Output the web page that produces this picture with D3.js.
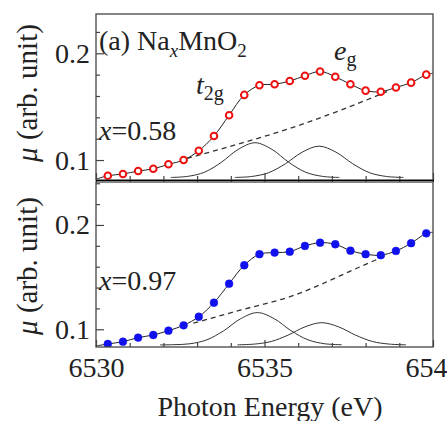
<!DOCTYPE html>
<html>
<head>
  <meta charset="utf-8">
  <script src="https://d3js.org/d3.v7.min.js"></script>
  <title>NaxMnO2 pre-edge</title>
  <style>
    body { margin: 0; background: #fff; }
    text { font-family: "Liberation Serif", "Times New Roman", serif; fill: #222; }
  </style>
</head>
<body>
  <div class='chart'></div>
  <script type="text/javascript">
    // photon energy of the measured points (eV)
    var energy = [6530.35, 6530.8, 6531.25, 6531.7, 6532.15, 6532.6, 6533.05, 6533.5,
                  6533.95, 6534.4, 6534.85, 6535.3, 6535.75, 6536.2, 6536.65, 6537.1,
                  6537.55, 6538.0, 6538.45, 6538.9, 6539.35, 6539.8];

    // x = 0.58 (top), x = 0.97 (bottom)
    var muTop = [0.0853, 0.0869, 0.0897, 0.0918, 0.0960, 0.1000, 0.1087, 0.1225,
                 0.1420, 0.1610, 0.1700, 0.1710, 0.1740, 0.1790, 0.1830, 0.1780,
                 0.1710, 0.1650, 0.1640, 0.1680, 0.1725, 0.1800];
    var muBottom = [0.0859, 0.0881, 0.0920, 0.0945, 0.0987, 0.1038, 0.1120, 0.1255,
                    0.1437, 0.1614, 0.1720, 0.1735, 0.1744, 0.1799, 0.1830, 0.1815,
                    0.1754, 0.1720, 0.1710, 0.1751, 0.1825, 0.1920];

    // fit curve ends at the panel edges
    var fitEdgeTop = [[6530, 0.0820], [6540, 0.1813]];
    var fitEdgeBottom = [[6530, 0.0840], [6540, 0.1930]];

    // step-like background (dashed)
    var bgTopE = [6532.7, 6534.2, 6535.76, 6537.2, 6538.63];
    var bgTopMu = [0.1015, 0.1148, 0.1297, 0.1460, 0.1640];
    var bgBottomE = [6532.89, 6534.3, 6535.76, 6537.74, 6538.63];
    var bgBottomMu = [0.1058, 0.1185, 0.1313, 0.1585, 0.1712];

    // t2g and eg peak components
    var t2gTopE = [6532.22, 6532.72, 6533.22, 6533.72, 6534.22, 6534.72, 6535.22, 6535.72, 6536.22, 6536.72, 6537.22];
    var t2gTopMu = [0.0837, 0.0847, 0.0886, 0.0979, 0.1100, 0.1162, 0.1100, 0.0979, 0.0886, 0.0847, 0.0837];
    var egTopE = [6534.12, 6534.62, 6535.12, 6535.62, 6536.12, 6536.62, 6537.12, 6537.62, 6538.12, 6538.62, 6539.12];
    var egTopMu = [0.0837, 0.0846, 0.0881, 0.0965, 0.1074, 0.1130, 0.1074, 0.0965, 0.0881, 0.0846, 0.0837];
    var t2gBottomE = [6531.9, 6532.29, 6532.79, 6533.29, 6533.79, 6534.29, 6534.79, 6535.29, 6535.79, 6536.29, 6536.79, 6537.29];
    var t2gBottomMu = [0.0850, 0.0852, 0.0861, 0.0899, 0.0986, 0.1101, 0.1160, 0.1101, 0.0986, 0.0899, 0.0861, 0.0852];
    var egBottomE = [6534.2, 6534.7, 6535.2, 6535.7, 6536.2, 6536.7, 6537.2, 6537.7, 6538.2, 6538.7, 6539.2];
    var egBottomMu = [0.0851, 0.0858, 0.0883, 0.0944, 0.1023, 0.1063, 0.1023, 0.0944, 0.0883, 0.0858, 0.0851];

    var xTicks = [6530, 6535, 6540];
    var xMinor = [6531, 6532, 6533, 6534, 6536, 6537, 6538, 6539];
    var yTicks = [0.1, 0.2];
    var yMinor = [0.08, 0.12, 0.14, 0.16, 0.18, 0.22, 0.24];

    function zip(a, b) {
      return a.map(function(v, i) { return [v, b[i]]; });
    }

    var W = 447, H = 421;
    var left = 96, right = 433;

    var svg = d3.select('.chart')
      .append('svg')
      .attr('width', W)
      .attr('height', H);

    var x = d3.scaleLinear().domain([6530, 6540]).range([left, right]);

    var panels = [
      {top: 14, bottom: 180, domain: [0.0813, 0.2368], mu: muTop, edge: fitEdgeTop,
       bg: zip(bgTopE, bgTopMu), t2g: zip(t2gTopE, t2gTopMu), eg: zip(egTopE, egTopMu),
       open: true, color: '#ee1111', labelY: 93},
      {top: 182, bottom: 347, domain: [0.0830, 0.2412], mu: muBottom, edge: fitEdgeBottom,
       bg: zip(bgBottomE, bgBottomMu), t2g: zip(t2gBottomE, t2gBottomMu), eg: zip(egBottomE, egBottomMu),
       open: false, color: '#1111ee', labelY: 266}
    ];

    panels.forEach(function(p, k) {
      var y = d3.scaleLinear().domain(p.domain).range([p.bottom, p.top]);
      var g = svg.append('g');

      svg.append('clipPath').attr('id', 'clip' + k)
        .append('rect')
        .attr('x', left).attr('y', p.top)
        .attr('width', right - left).attr('height', p.bottom - p.top);

      var line = d3.line()
        .x(function(d) { return x(d[0]); })
        .y(function(d) { return y(d[1]); });

      var plot = g.append('g').attr('clip-path', 'url(#clip' + k + ')');

      // peak components
      [p.t2g, p.eg].forEach(function(c) {
        plot.append('path')
          .attr('d', line.curve(d3.curveCatmullRom)(c))
          .attr('fill', 'none')
          .attr('stroke', '#333')
          .attr('stroke-width', 1);
      });

      // background
      plot.append('path')
        .attr('d', line.curve(d3.curveMonotoneX)(p.bg))
        .attr('fill', 'none')
        .attr('stroke', '#333')
        .attr('stroke-width', 1.3)
        .attr('stroke-dasharray', '5,4');

      // fit
      var pts = zip(energy, p.mu);
      var fit = [p.edge[0]].concat(pts, [p.edge[1]]);
      plot.append('path')
        .attr('d', line.curve(d3.curveCatmullRom)(fit))
        .attr('fill', 'none')
        .attr('stroke', '#222')
        .attr('stroke-width', 1);

      plot.selectAll('circle.pt')
        .data(pts)
        .enter()
        .append('circle')
        .attr('class', 'pt')
        .attr('cx', function(d) { return x(d[0]); })
        .attr('cy', function(d) { return y(d[1]); })
        .attr('r', p.open ? 3.3 : 3.9)
        .attr('fill', p.open ? '#fff' : p.color)
        .attr('stroke', p.color)
        .attr('stroke-width', p.open ? 2 : 0.5);

      // frame
      g.append('rect')
        .attr('x', left).attr('y', p.top)
        .attr('width', right - left).attr('height', p.bottom - p.top)
        .attr('fill', 'none')
        .attr('stroke', '#444')
        .attr('stroke-width', 1.3);

      // y ticks (inward)
      var yMaj = g.append('g')
        .attr('transform', 'translate(' + left + ',0)')
        .call(d3.axisLeft(y).tickValues(yTicks).tickSizeInner(-8).tickSizeOuter(0)
              .tickPadding(6).tickFormat(d3.format('.1f')));
      var yMin = g.append('g')
        .attr('transform', 'translate(' + left + ',0)')
        .call(d3.axisLeft(y).tickValues(yMinor.filter(function(v) {
                return v > p.domain[0] && v < p.domain[1]; }))
              .tickSizeInner(-4).tickSizeOuter(0).tickFormat(''));

      // x ticks (inward from the bottom)
      var xMaj = g.append('g')
        .attr('transform', 'translate(0,' + p.bottom + ')')
        .call(d3.axisBottom(x).tickValues(xTicks).tickSizeInner(-7).tickSizeOuter(0)
              .tickPadding(10).tickFormat(k === 1 ? d3.format('d') : ''));
      var xMin = g.append('g')
        .attr('transform', 'translate(0,' + p.bottom + ')')
        .call(d3.axisBottom(x).tickValues(xMinor).tickSizeInner(-4).tickSizeOuter(0).tickFormat(''));
      if (k === 0) {
        // short ticks bridging the gap to the lower panel
        g.append('g')
          .attr('transform', 'translate(0,' + p.bottom + ')')
          .call(d3.axisBottom(x).tickValues(xTicks.concat(xMinor)).tickSizeInner(2).tickSizeOuter(0).tickFormat(''));
      }

      [yMaj, yMin, xMaj, xMin].forEach(function(a) {
        a.select('.domain').remove();
        a.selectAll('line').attr('stroke', '#444').attr('stroke-width', 1.2);
        a.selectAll('text')
          .style('font-family', '"Liberation Serif", serif')
          .style('font-size', '28px')
          .attr('fill', '#222');
      });

      // y label
      var yl = g.append('text')
        .attr('transform', 'translate(37,' + p.labelY + ') rotate(-90)')
        .attr('text-anchor', 'middle')
        .style('font-size', '29px');
      yl.append('tspan').style('font-style', 'italic').text('\u03bc');
      yl.append('tspan').text(' (arb. unit)');
    });

    svg.selectAll('g.tick text').attr('fill', '#222');

    // annotations
    var a = svg.append('text').attr('x', 99).attr('y', 50).style('font-size', '28px');
    a.append('tspan').text('(a) Na');
    a.append('tspan').attr('dy', 7).style('font-size', '19px').style('font-style', 'italic').text('x');
    a.append('tspan').attr('dy', -7).text('MnO');
    a.append('tspan').attr('dy', 7).style('font-size', '19px').text('2');

    function xLabel(yPos, val) {
      var t = svg.append('text').attr('x', 99).attr('y', yPos).style('font-size', '28px');
      t.append('tspan').style('font-style', 'italic').text('x');
      t.append('tspan').text('=' + val);
    }
    xLabel(140, '0.58');
    xLabel(290, '0.97');

    var t2 = svg.append('text').attr('x', 196).attr('y', 94).style('font-size', '28px');
    t2.append('tspan').style('font-style', 'italic').text('t');
    t2.append('tspan').attr('dy', 6).style('font-size', '20px').text('2g');

    var eg = svg.append('text').attr('x', 334).attr('y', 60).style('font-size', '28px');
    eg.append('tspan').style('font-style', 'italic').text('e');
    eg.append('tspan').attr('dy', 6).style('font-size', '20px').text('g');

    svg.append('text')
      .attr('x', 270).attr('y', 416)
      .attr('text-anchor', 'middle')
      .style('font-size', '28px')
      .text('Photon Energy (eV)');
  </script>
</body>
</html>
